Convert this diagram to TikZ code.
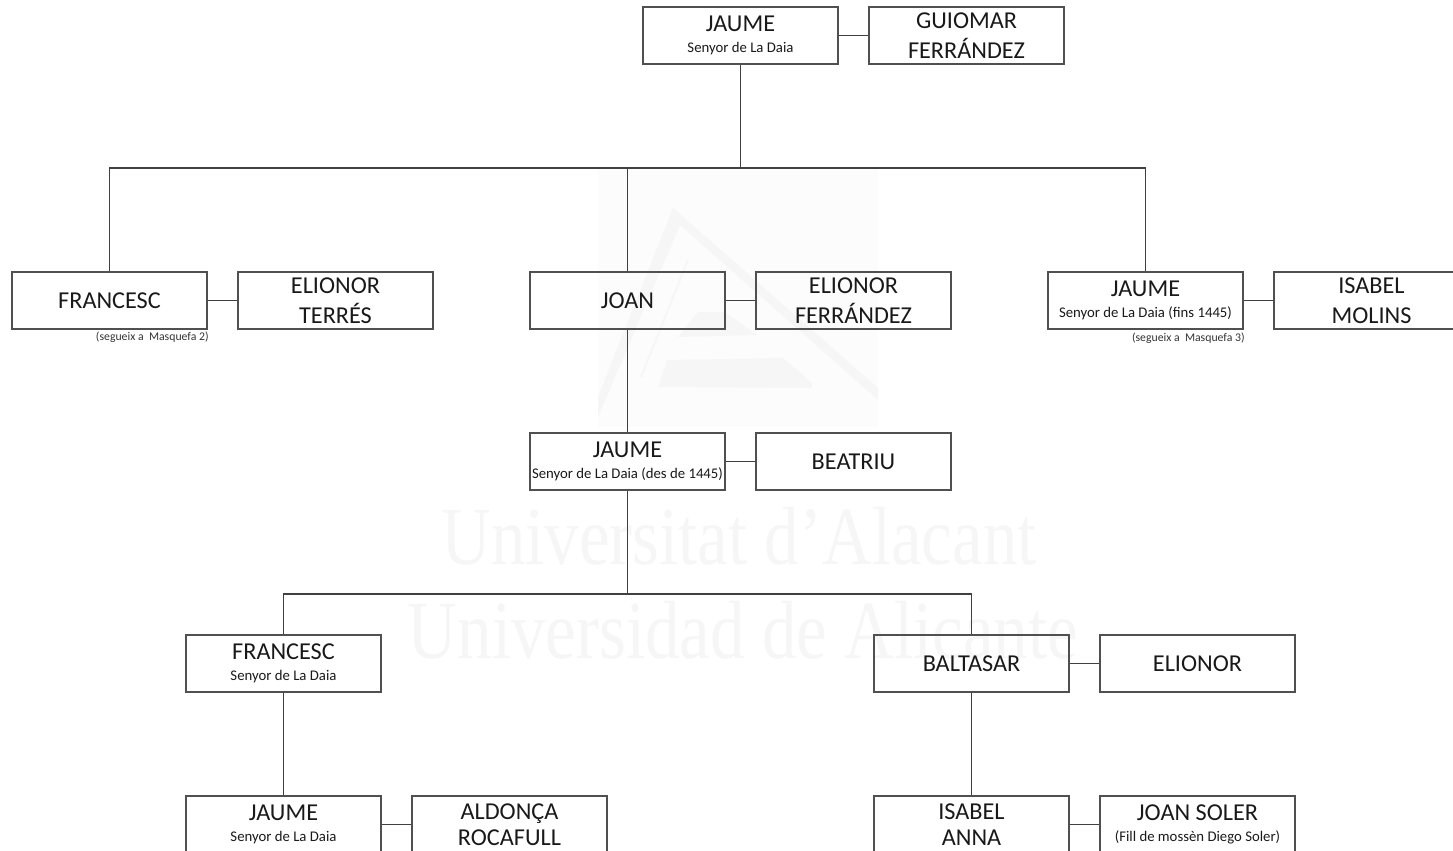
\documentclass[tikz,border=0pt]{standalone}
\usepackage{fontspec}
\setmainfont{Carlito}
\newfontfamily\markfont{Liberation Serif}
\usetikzlibrary{positioning,calc}
\definecolor{boxline}{HTML}{505050}
\definecolor{markgray}{HTML}{F6F6F6}
\newcommand{\subname}[1]{{\fontsize{8.4}{10}\selectfont #1}}

\begin{document}
\begin{tikzpicture}[
    x=0.02cm, y=-0.02cm,
    person/.style={draw=boxline, line width=0.7pt, align=center, inner sep=0pt, text=black!90,
        minimum width=3.9cm, minimum height=1.14cm, font=\fontsize{13.8}{17}\selectfont},
    note/.style={inner sep=0pt, text=black!80, font=\fontsize{6.7}{8}\selectfont},
    watermark/.style={inner sep=0pt, text=markgray, font=\markfont\fontsize{47}{47}\selectfont},
    link/.style={draw=black!75, line width=0.7pt}
]
    \clip (0,0) rectangle (1453,850);

    % Watermark
    \fill[black!1] (598,168) rectangle (878,427);
    \fill[markgray] (598,417) -- (598,397) -- (673,208) -- (878,388) -- (878,400) -- (680,225) -- cycle;
    \fill[markgray] (698,312) -- (725,312) -- (757,335) -- (678,337) -- cycle;
    \fill[markgray] (667,360) -- (783,358) -- (812,383) -- (812,388) -- (658,387) -- cycle;
    \fill[markgray] (687,260) -- (689,260) -- (642,377) -- (640,377) -- cycle;
    \node[watermark] (markA) at (739,536) {\scalebox{0.835}[1]{Universitat d’Alacant}};
    \node[watermark] (markB) at (743,630) {\scalebox{0.835}[1]{Universidad de Alicante}};

    % Top couple
    \node[person] (jaumeA) at (740.5,35.5) {JAUME\\[-5pt]\subname{Senyor de La Daia}};
    \node[person] (guiomar) at (966.5,35.5) {GUIOMAR\\FERRÁNDEZ};

    % Children
    \node[person] (francescA) at (109.5,300.5) {FRANCESC};
    \node[person] (elionorT) at (335.5,300.5) {ELIONOR\\TERRÉS};
    \node[person] (joan) at (627.5,300.5) {JOAN};
    \node[person] (elionorF) at (853.5,300.5) {ELIONOR\\FERRÁNDEZ};
    \node[person] (jaumeB) at (1145.5,300.5) {JAUME\\[-5pt]\subname{Senyor de La Daia (fins 1445)}};
    \node[person] (isabelM) at (1371.5,300.5) {ISABEL\\MOLINS};
    \node[note, anchor=east] (noteA) at (209,337) {(segueix a\ \ Masquefa 2)};
    \node[note, anchor=east] (noteB) at (1245,338) {(segueix a\ \ Masquefa 3)};

    % Joan's line
    \node[person] (jaumeC) at (627.5,461.5) {JAUME\\[-5pt]\subname{Senyor de La Daia (des de 1445)}};
    \node[person] (beatriu) at (853.5,461.5) {BEATRIU};
    \node[person] (francescB) at (283.5,663.5) {FRANCESC\\[-5pt]\subname{Senyor de La Daia}};
    \node[person] (baltasar) at (971.5,663.5) {BALTASAR};
    \node[person] (elionorC) at (1197.5,663.5) {ELIONOR};

    % Last row
    \node[person] (jaumeD) at (283.5,824.5) {JAUME\\[-5pt]\subname{Senyor de La Daia}};
    \node[person] (aldonca) at (509.5,824.5) {ALDONÇA\\[-2pt]ROCAFULL};
    \node[person] (isabelA) at (971.5,824.5) {ISABEL\\[-2pt]ANNA};
    \node[person] (joansoler) at (1197.5,824.5) {JOAN SOLER\\[-5pt]\subname{(Fill de mossèn Diego Soler)}};

    % Bus lines
    \coordinate (busA) at (740.5,168);
    \coordinate (busB) at (627.5,594);

    % Descent
    \draw[link] (jaumeA) -- (busA);
    \draw[link] (francescA.north) |- (busA);
    \draw[link] (jaumeB.north) |- (busA);
    \draw[link] (joan.north) -- (joan.north |- busA);
    \draw[link] (joan) -- (jaumeC);
    \draw[link] (jaumeC) -- (busB);
    \draw[link] (francescB.north) |- (busB);
    \draw[link] (baltasar.north) |- (busB);
    \draw[link] (francescB) -- (jaumeD);
    \draw[link] (baltasar) -- (isabelA);

    % Marriages
    \draw[link] (jaumeA) -- (guiomar);
    \draw[link] (francescA) -- (elionorT);
    \draw[link] (joan) -- (elionorF);
    \draw[link] (jaumeB) -- (isabelM);
    \draw[link] (jaumeC) -- (beatriu);
    \draw[link] (baltasar) -- (elionorC);
    \draw[link] (jaumeD) -- (aldonca);
    \draw[link] (isabelA) -- (joansoler);

\end{tikzpicture}
\end{document}
